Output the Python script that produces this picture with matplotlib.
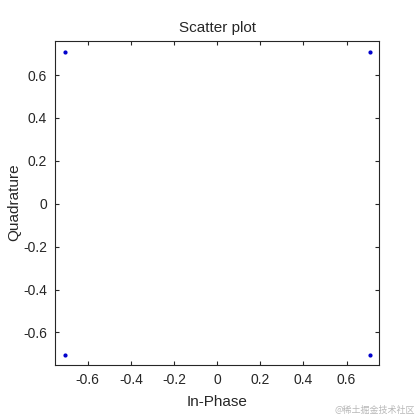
import numpy as np
import matplotlib
matplotlib.use("Agg")
import matplotlib.pyplot as plt

# QPSK constellation points (in-phase, quadrature)
in_phase = [-0.7071, 0.7071, -0.7071, 0.7071]
quadrature = [0.7071, 0.7071, -0.7071, -0.7071]
ticks = [-0.6, -0.4, -0.2, 0, 0.2, 0.4, 0.6]
tick_labels = ["-0.6", "-0.4", "-0.2", "0", "0.2", "0.4", "0.6"]

plt.rcParams['font.family'] = ['Liberation Sans', 'DejaVu Sans']
dark = '#262626'

fig = plt.figure(figsize=(4.2, 4.2), dpi=100)
ax = fig.add_axes([0.132, 0.132, 0.770, 0.771])

ax.plot(in_phase, quadrature, '.', color='#0000cc', markersize=4, linestyle='none')

ax.set_xlim(-0.75, 0.75)
ax.set_ylim(-0.75, 0.76)
ax.set_xticks(ticks)
ax.set_xticklabels(tick_labels)
ax.set_yticks(ticks)
ax.set_yticklabels(tick_labels)

ax.tick_params(direction='in', length=3, width=0.8, top=True, right=True,
               labelsize=10, colors=dark, pad=6)
for s in ax.spines.values():
    s.set_color(dark)
    s.set_linewidth(0.8)

ax.set_title("Scatter plot", fontsize=11, color=dark, pad=6)
ax.set_xlabel("In-Phase", fontsize=11, color=dark, labelpad=6)
ax.set_ylabel("Quadrature", fontsize=11, color=dark, labelpad=1)

fig.text(0.988, 0.012, "@稀土掘金技术社区", ha='right', va='bottom', fontsize=6.5,
         color='#b8b8b8', family=['Noto Sans CJK SC', 'DejaVu Sans'])

fig.savefig("out.png", dpi=100)
